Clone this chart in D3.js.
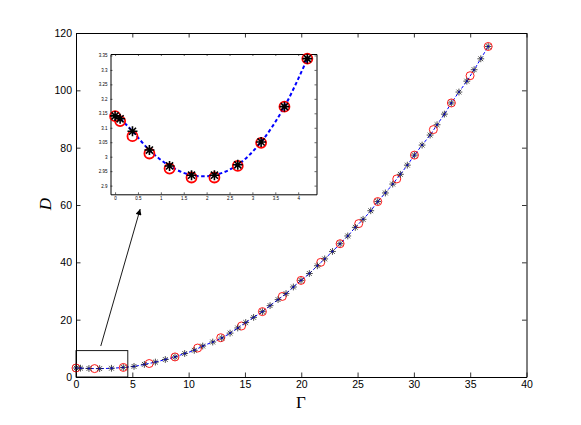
<!DOCTYPE html>
<html>
<head>
<meta charset="utf-8">
<script src="https://cdn.jsdelivr.net/npm/d3@7"></script>
<style>
  body { margin: 0; background: #fff; }
  svg { display: block; }
  .axis text { font-family: "Liberation Sans", Arial, sans-serif; fill: #000; }
  .axis path, .axis line { stroke: #000; }
</style>
</head>
<body>
<svg width="581" height="425"></svg>
<script>
// main chart: stars (all points) and circles (subset)
var starG = [0, 0.4, 1.15, 2.1, 3.15, 4.2, 5.15, 6.07, 7.05, 7.93, 8.79, 9.65, 10.5, 11.25, 12.14, 12.94,
    13.68, 14.36, 15.07, 15.77, 16.55, 17.23, 17.94, 18.65, 19.3, 19.98, 20.72, 21.43, 22.08, 22.77,
    23.45, 24.13, 24.8, 25.49, 26.17, 26.79, 27.47, 28.12, 28.8, 29.42, 30.05, 30.73, 31.44, 32.06,
    32.71, 33.33, 34.0, 34.7, 35.35, 35.94, 36.6];
var starD = [3.14, 3.09, 2.97, 2.94, 3.05, 3.34, 3.7, 4.4, 5.2, 6.1, 7.0, 8.2, 9.3, 10.8, 12.2, 13.6,
    15.3, 17.1, 19.0, 20.8, 22.8, 24.9, 27.0, 29.1, 31.4, 33.7, 36.1, 38.8, 41.2, 43.8,
    46.5, 49.2, 52.2, 55.0, 58.0, 61.2, 64.2, 67.3, 70.7, 73.9, 77.4, 80.9, 84.4, 88.0,
    91.7, 95.6, 99.4, 103.2, 107.2, 111.0, 115.3];
var circG = [0, 1.65, 4.2, 6.5, 8.79, 10.8, 12.85, 14.7, 16.55, 18.32, 19.98, 21.73, 23.45, 25.1,
    26.79, 28.48, 30.05, 31.73, 33.33, 34.99, 36.6];
var circD = [3.14, 2.93, 3.34, 4.7, 7.0, 10.1, 13.7, 17.8, 22.8, 28.1, 33.7, 40.0, 46.5, 53.5,
    61.2, 69.1, 77.4, 86.3, 95.6, 105.1, 115.3];

// inset (zoom of the first points)
var insetG = [0, 0.11, 0.38, 0.75, 1.19, 1.67, 2.17, 2.68, 3.19, 3.70, 4.20];
var insetStarD = [3.141, 3.131, 3.088, 3.023, 2.968, 2.936, 2.936, 2.972, 3.051, 3.173, 3.339];
var insetCircD = [3.140, 3.123, 3.071, 3.011, 2.959, 2.928, 2.928, 2.968, 3.048, 3.173, 3.339];

var xTicks = [0, 5, 10, 15, 20, 25, 30, 35, 40];
var yTicks = [0, 20, 40, 60, 80, 100, 120];
var insetXTicks = [0, 0.5, 1, 1.5, 2, 2.5, 3, 3.5, 4];
var insetYTicks = [2.9, 2.95, 3, 3.05, 3.1, 3.15, 3.2, 3.25, 3.3, 3.35];

var svg = d3.select("svg");

var x = d3.scaleLinear().domain([0, 40]).range([76, 526.5]);
var y = d3.scaleLinear().domain([0, 120]).range([377, 33]);

function starPath(r) {
    var a = r * Math.SQRT1_2;
    return "M" + (-r) + ",0L" + r + ",0M0," + (-r) + "L0," + r +
        "M" + (-a) + "," + (-a) + "L" + a + "," + a + "M" + (-a) + "," + a + "L" + a + "," + (-a);
}

// axes (MATLAB-like box, ticks inside)
function drawAxes(g, xs, ys, xt, yt, tick, fontSize, pad, xfmt, yfmt) {
    g.append("g").attr("class", "axis")
        .attr("transform", "translate(0," + ys.range()[0] + ")")
        .call(d3.axisBottom(xs).tickValues(xt).tickSize(-tick).tickSizeOuter(0).tickPadding(pad).tickFormat(xfmt))
        .style("font-size", fontSize + "px");
    g.append("g").attr("class", "axis")
        .attr("transform", "translate(0," + ys.range()[1] + ")")
        .call(d3.axisTop(xs).tickValues(xt).tickSize(-tick).tickSizeOuter(0).tickFormat(""));
    g.append("g").attr("class", "axis")
        .attr("transform", "translate(" + xs.range()[0] + ",0)")
        .call(d3.axisLeft(ys).tickValues(yt).tickSize(-tick).tickSizeOuter(0).tickPadding(pad).tickFormat(yfmt))
        .style("font-size", fontSize + "px");
    g.append("g").attr("class", "axis")
        .attr("transform", "translate(" + xs.range()[1] + ",0)")
        .call(d3.axisRight(ys).tickValues(yt).tickSize(-tick).tickSizeOuter(0).tickFormat(""));
    g.selectAll(".domain").attr("stroke-width", 1);
    g.selectAll(".tick line").attr("stroke-width", 0.8);
}

var main = svg.append("g");
drawAxes(main, x, y, xTicks, yTicks, 4.5, 10.5, 4, d3.format("d"), d3.format("d"));
main.selectAll(".axis text").attr("fill", "#000");

// axis labels
svg.append("text")
    .attr("x", 301).attr("y", 408)
    .attr("text-anchor", "middle")
    .style("font-family", "'Liberation Serif', 'Times New Roman', serif")
    .style("font-size", "17px")
    .text("Γ");
svg.append("text")
    .attr("transform", "translate(51,204) rotate(-90)")
    .attr("text-anchor", "middle")
    .style("font-family", "'Liberation Serif', 'Times New Roman', serif")
    .style("font-style", "italic")
    .style("font-size", "17px")
    .text("D");

// main data
var mainLine = d3.line()
    .x(function(d, i) { return x(starG[i]); })
    .y(function(d) { return y(d); })
    .curve(d3.curveCatmullRom);

main.append("path")
    .datum(starD)
    .attr("d", mainLine)
    .attr("fill", "none")
    .attr("stroke", "#0000ff")
    .attr("stroke-width", 1)
    .attr("stroke-dasharray", "3,2");

main.selectAll("circle.c")
    .data(circD).enter().append("circle")
    .attr("class", "c")
    .attr("cx", function(d, i) { return x(circG[i]); })
    .attr("cy", function(d) { return y(d); })
    .attr("r", 4)
    .attr("fill", "none")
    .attr("stroke", "#ff0000")
    .attr("stroke-width", 0.9);

main.selectAll("path.s")
    .data(starD).enter().append("path")
    .attr("class", "s")
    .attr("transform", function(d, i) { return "translate(" + x(starG[i]) + "," + y(d) + ")"; })
    .attr("d", starPath(3.4))
    .attr("fill", "none")
    .attr("stroke", "#222")
    .attr("stroke-width", 0.8);

main.selectAll("circle.dot")
    .data(starD).enter().append("circle")
    .attr("class", "dot")
    .attr("cx", function(d, i) { return x(starG[i]); })
    .attr("cy", function(d) { return y(d); })
    .attr("r", 0.9)
    .attr("fill", "#0000cc");

// zoom box and arrow
svg.append("rect")
    .attr("x", x(0)).attr("y", y(9.2))
    .attr("width", x(4.6) - x(0)).attr("height", y(0) - y(9.2))
    .attr("fill", "none").attr("stroke", "#000").attr("stroke-width", 0.9);

svg.append("defs").append("marker")
    .attr("id", "arr")
    .attr("viewBox", "0 0 10 10")
    .attr("refX", 10).attr("refY", 5)
    .attr("markerWidth", 7).attr("markerHeight", 6)
    .attr("markerUnits", "userSpaceOnUse")
    .attr("orient", "auto")
    .append("path").attr("d", "M0,0L10,5L0,10Z").attr("fill", "#000");

svg.append("line")
    .attr("x1", x(2.2)).attr("y1", y(10.8))
    .attr("x2", x(5.7)).attr("y2", y(58.6))
    .attr("stroke", "#000").attr("stroke-width", 0.9)
    .attr("marker-end", "url(#arr)");

// inset
var ix = d3.scaleLinear().domain([-0.1, 4.4]).range([110.5, 316.5]);
var iy = d3.scaleLinear().domain([2.87, 3.355]).range([194.3, 54]);

var inset = svg.append("g");
inset.append("rect")
    .attr("x", ix.range()[0]).attr("y", iy.range()[1])
    .attr("width", ix.range()[1] - ix.range()[0])
    .attr("height", iy.range()[0] - iy.range()[1])
    .attr("fill", "#fff");
drawAxes(inset, ix, iy, insetXTicks, insetYTicks, 2, 4.5, 3, d3.format("~g"), d3.format("~g"));
inset.selectAll(".tick line").attr("stroke", "#888").attr("stroke-width", 0.6);
inset.selectAll(".axis text").attr("fill", "#222");
inset.selectAll(".domain").attr("stroke", "#444");

var insetLine = d3.line()
    .x(function(d, i) { return ix(insetG[i]); })
    .y(function(d) { return iy(d); })
    .curve(d3.curveCatmullRom);

inset.append("path")
    .datum(insetStarD)
    .attr("d", insetLine)
    .attr("fill", "none")
    .attr("stroke", "#0000ff")
    .attr("stroke-width", 2)
    .attr("stroke-dasharray", "3.5,2.5");

inset.selectAll("circle.c")
    .data(insetCircD).enter().append("circle")
    .attr("class", "c")
    .attr("cx", function(d, i) { return ix(insetG[i]); })
    .attr("cy", function(d) { return iy(d); })
    .attr("r", 5)
    .attr("fill", "none")
    .attr("stroke", "#ff0000")
    .attr("stroke-width", 1.8);

inset.selectAll("path.s")
    .data(insetStarD).enter().append("path")
    .attr("class", "s")
    .attr("transform", function(d, i) { return "translate(" + ix(insetG[i]) + "," + iy(d) + ")"; })
    .attr("d", starPath(5))
    .attr("fill", "none")
    .attr("stroke", "#000")
    .attr("stroke-width", 1.6);
</script>
</body>
</html>
